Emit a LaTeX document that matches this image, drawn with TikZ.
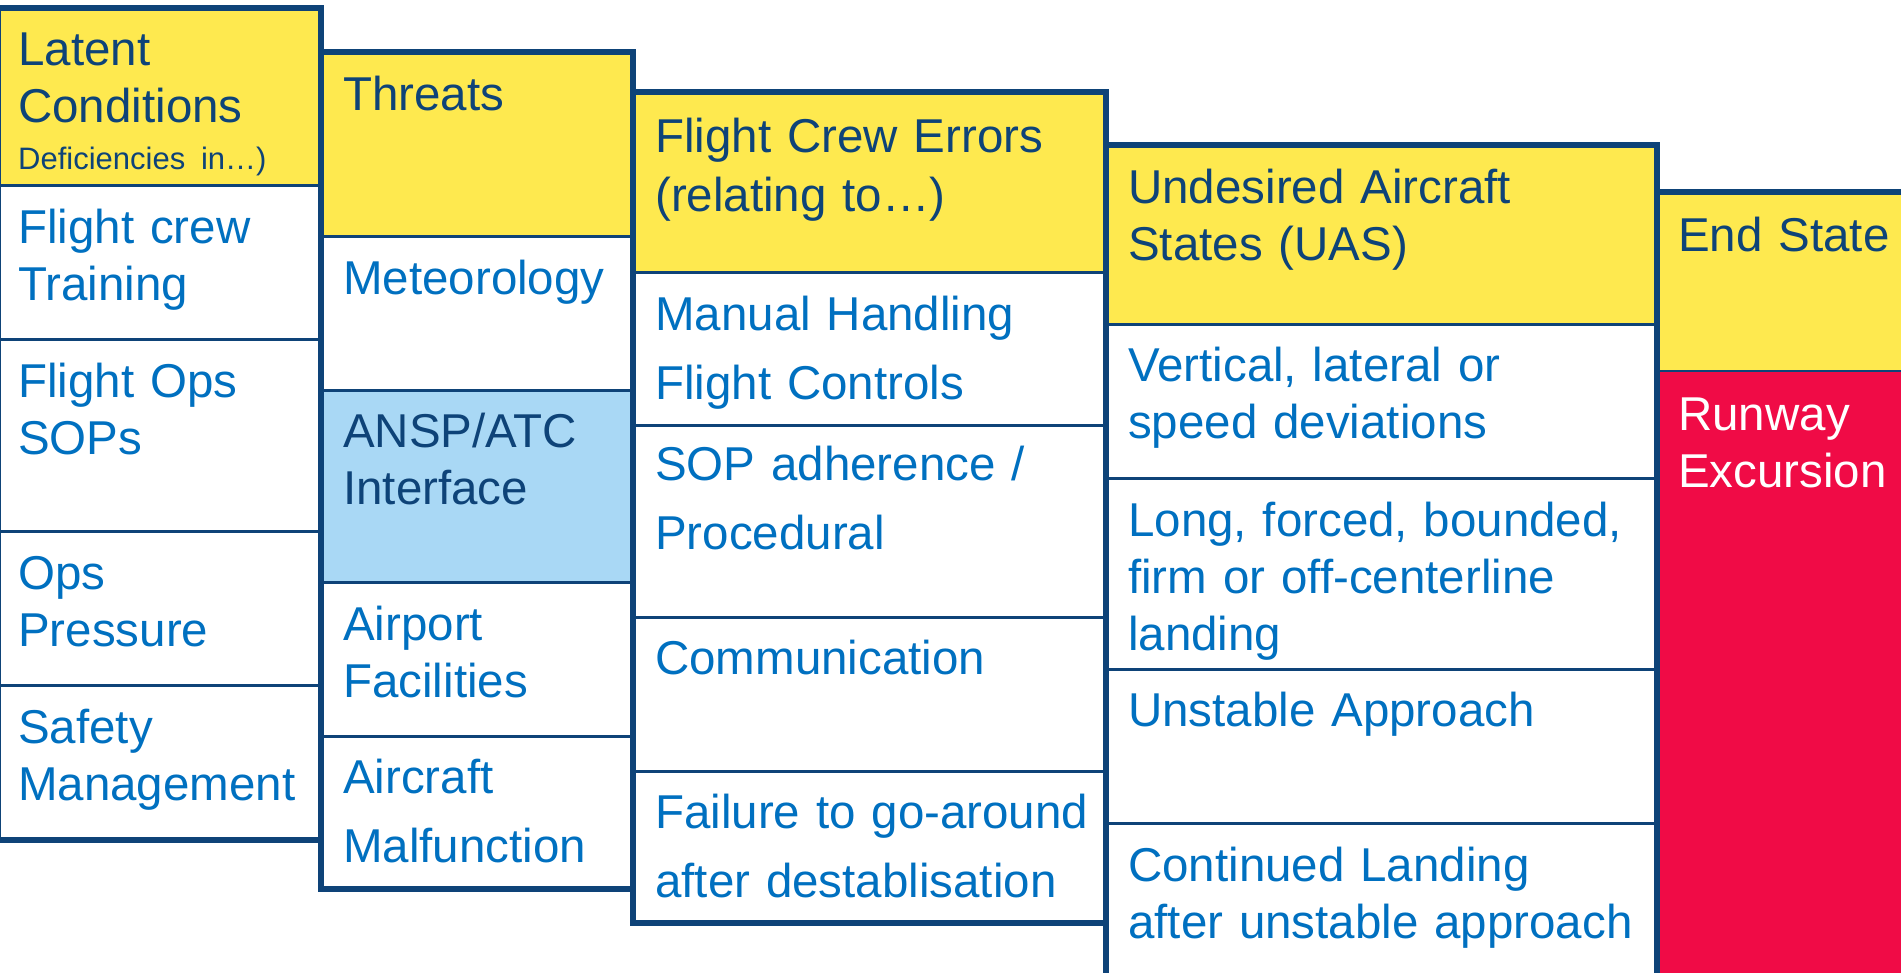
\documentclass[tikz,border=0pt]{standalone}
\usepackage{fontspec}
\setmainfont{Liberation Sans}
\usetikzlibrary{positioning}

\definecolor{navy}{RGB}{14,67,120}
\definecolor{hdyellow}{RGB}{254,233,79}
\definecolor{atcblue}{RGB}{169,216,245}
\definecolor{endred}{RGB}{240,11,70}
\definecolor{itemblue}{RGB}{0,112,192}

\tikzset{
  cell/.style={rectangle, draw=navy, line width=3pt, fill=white, inner sep=0pt, outer sep=0pt, anchor=north west},
  outer/.style={draw=navy, line width=6pt},
  itemtext/.style={anchor=base west, text width=560pt, align=left, inner sep=0pt, text=itemblue, font=\fontsize{47.5}{57}\selectfont},
  widetext/.style={itemtext, font=\fontsize{47.5}{69}\selectfont},
  hdtext/.style={itemtext, text=navy},
  col1/.style={minimum width=323pt},
  col2/.style={minimum width=312pt},
  col3/.style={minimum width=473pt},
  col4/.style={minimum width=551pt},
  col5/.style={minimum width=270pt}
}

\begin{document}
\begin{tikzpicture}[x=1pt, y=-1pt]
    \useasboundingbox (0,0) rectangle (1901,972);
    \clip (0,0) rectangle (1901,972);
    \fill[white] (0,0) rectangle (1901,972);

    % Latent conditions
    \node (lathd) [cell, col1, fill=hdyellow, minimum height=177pt] at (-2,8) {};
    \node (lat1) [cell, col1, below=0pt of lathd, minimum height=154pt] {};
    \node (lat2) [cell, col1, below=0pt of lat1, minimum height=192pt] {};
    \node (lat3) [cell, col1, below=0pt of lat2, minimum height=154pt] {};
    \node (lat4) [cell, col1, below=0pt of lat3, minimum height=155pt] {};
    \draw[outer] (lathd.north west) rectangle (lat4.south east);

    \node (latt) [hdtext] at ([xshift=20pt,yshift=-57pt]lathd.north west) {Latent\\Conditions\\[-10pt]{\fontsize{31}{45}\selectfont Deficiencies\ in…)}};
    \node (lat1t) [itemtext] at ([xshift=20pt,yshift=-58pt]lat1.north west) {Flight crew\\Training};
    \node (lat2t) [itemtext] at ([xshift=20pt,yshift=-58pt]lat2.north west) {Flight Ops\\SOPs};
    \node (lat3t) [itemtext] at ([xshift=20pt,yshift=-58pt]lat3.north west) {Ops\\Pressure};
    \node (lat4t) [itemtext] at ([xshift=20pt,yshift=-58pt]lat4.north west) {Safety\\Management};

    % Threats
    \node (thrhd) [cell, col2, fill=hdyellow, minimum height=184pt] at (321,52) {};
    \node (thr1) [cell, col2, below=0pt of thrhd, minimum height=154pt] {};
    \node (thr2) [cell, col2, below=0pt of thr1, fill=atcblue, minimum height=192pt] {};
    \node (thr3) [cell, col2, below=0pt of thr2, minimum height=154pt] {};
    \node (thr4) [cell, col2, below=0pt of thr3, minimum height=153pt] {};
    \draw[outer] (thrhd.north west) rectangle (thr4.south east);

    \node (thrt) [hdtext] at ([xshift=22pt,yshift=-58pt]thrhd.north west) {Threats};
    \node (thr1t) [itemtext] at ([xshift=22pt,yshift=-58pt]thr1.north west) {Meteorology};
    \node (thr2t) [hdtext] at ([xshift=22pt,yshift=-57pt]thr2.north west) {ANSP/ATC\\Interface};
    \node (thr3t) [itemtext] at ([xshift=22pt,yshift=-58pt]thr3.north west) {Airport\\Facilities};
    \node (thr4t) [widetext] at ([xshift=22pt,yshift=-57pt]thr4.north west) {Aircraft\\Malfunction};

    % Flight crew errors
    \node (fcehd) [cell, col3, fill=hdyellow, minimum height=180pt] at (633,92) {};
    \node (fce1) [cell, col3, below=0pt of fcehd, minimum height=153pt] {};
    \node (fce2) [cell, col3, below=0pt of fce1, minimum height=192pt] {};
    \node (fce3) [cell, col3, below=0pt of fce2, minimum height=154pt] {};
    \node (fce4) [cell, col3, below=0pt of fce3, minimum height=152pt] {};
    \draw[outer] (fcehd.north west) rectangle (fce4.south east);

    \node (fcet) [hdtext, font=\fontsize{47.5}{59}\selectfont] at ([xshift=22pt,yshift=-60pt]fcehd.north west) {Flight Crew Errors\\(relating to…)};
    \node (fce1t) [widetext] at ([xshift=22pt,yshift=-58pt]fce1.north west) {Manual Handling\\Flight Controls};
    \node (fce2t) [widetext] at ([xshift=22pt,yshift=-55pt]fce2.north west) {SOP adherence /\\Procedural};
    \node (fce3t) [itemtext] at ([xshift=22pt,yshift=-57pt]fce3.north west) {Communication};
    \node (fce4t) [widetext] at ([xshift=22pt,yshift=-57pt]fce4.north west) {Failure to go-around\\after destablisation};

    % Undesired aircraft states
    \node (uashd) [cell, col4, fill=hdyellow, minimum height=179pt] at (1106,145) {};
    \node (uas1) [cell, col4, below=0pt of uashd, minimum height=154pt] {};
    \node (uas2) [cell, col4, below=0pt of uas1, minimum height=191pt] {};
    \node (uas3) [cell, col4, below=0pt of uas2, minimum height=154pt] {};
    \node (uas4) [cell, col4, below=0pt of uas3, minimum height=154pt] {};
    \draw[outer] (uashd.north west) rectangle (uas4.south east);

    \node (uast) [hdtext] at ([xshift=22pt,yshift=-58pt]uashd.north west) {Undesired Aircraft\\States (UAS)};
    \node (uas1t) [itemtext] at ([xshift=22pt,yshift=-57pt]uas1.north west) {Vertical, lateral or\\speed deviations};
    \node (uas2t) [itemtext] at ([xshift=22pt,yshift=-58pt]uas2.north west) {Long, forced, bounded,\\firm or off-centerline\\landing};
    \node (uas3t) [itemtext] at ([xshift=22pt,yshift=-57pt]uas3.north west) {Unstable Approach};
    \node (uas4t) [itemtext] at ([xshift=22pt,yshift=-58pt]uas4.north west) {Continued Landing\\after unstable approach};

    % End state
    \node (endhd) [cell, col5, fill=hdyellow, line width=2pt, minimum height=179pt] at (1657,192) {};
    \node (endrw) [cell, col5, below=0pt of endhd, fill=endred, line width=2pt, minimum height=640pt] {};
    \draw[outer] (endhd.north west) rectangle (endrw.south east);

    \node (endt) [hdtext] at ([xshift=21pt,yshift=-59pt]endhd.north west) {End State};
    \node (endrwt) [itemtext, text=white] at ([xshift=21pt,yshift=-59pt]endrw.north west) {Runway\\Excursion};
\end{tikzpicture}
\end{document}
